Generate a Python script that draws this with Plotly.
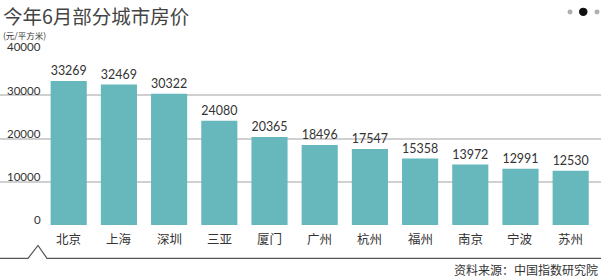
import plotly.graph_objects as go

cities = ["北京", "上海", "深圳", "三亚", "厦门", "广州", "杭州", "福州", "南京", "宁波", "苏州"]
prices = [33269, 32469, 30322, 24080, 20365, 18496, 17547, 15358, 13972, 12991, 12530]
y_ticks = [0, 10000, 20000, 30000, 40000]
title = "今年6月部分城市房价"
unit = "(元/平方米)"
source = "资料来源：中国指数研究院"

W, H = 601, 279
TOP, BOT = 52, 225.5


def py(p):
    return (BOT - p) / (BOT - TOP)


def px(p):
    return p / W


fig = go.Figure()
fig.add_trace(go.Bar(
    x=list(range(len(cities))), y=prices, width=0.72,
    marker=dict(color="#66b8bc", line=dict(width=0)),
    text=[str(v) for v in prices], textposition="outside",
    textfont=dict(family="Lato, Open Sans, sans-serif", size=14, color="#333333"),
    cliponaxis=False,
))

annotations = []
for t in y_ticks:
    annotations.append(dict(x=px(42), y=t, xref="paper", yref="y", text=str(t),
                            showarrow=False, xanchor="right", yanchor="bottom", yshift=-2.3,
                            borderpad=0,
                            font=dict(family="Lato, Open Sans, sans-serif", size=11.5, color="#333333")))
for i, c in enumerate(cities):
    annotations.append(dict(x=i, y=py(239), xref="x", yref="paper", text=c, showarrow=False,
                            xanchor="center", yanchor="middle",
                            font=dict(family="Noto Sans CJK SC", size=12.5, color="#333333")))
annotations.append(dict(x=px(2), y=py(0), xref="paper", yref="paper", text=title, showarrow=False,
                        xanchor="left", yanchor="top", borderpad=0,
                        font=dict(family="Noto Sans CJK SC", size=19.5, color="#444444")))
annotations.append(dict(x=px(2), y=py(28.4), xref="paper", yref="paper", text=unit, showarrow=False,
                        xanchor="left", yanchor="top", borderpad=0,
                        font=dict(family="Noto Sans CJK SC", size=8.5, color="#333333")))
annotations.append(dict(x=px(600), y=py(270), xref="paper", yref="paper", text=source, showarrow=False,
                        xanchor="right", yanchor="middle",
                        font=dict(family="Noto Sans CJK SC", size=12, color="#333333")))

shapes = [
    dict(type="path", xref="paper", yref="paper",
         path=f"M 0 {py(259)} L {px(28)} {py(259)} L {px(38)} {py(246)} L {px(47)} {py(259)} L 1 {py(259)}",
         line=dict(color="#555555", width=1.2)),
    dict(type="circle", xref="paper", yref="paper",
         x0=px(567.5), x1=px(572.5), y0=py(14.5), y1=py(9.5), fillcolor="#b0b0b0", line=dict(width=0)),
    dict(type="circle", xref="paper", yref="paper",
         x0=px(579), x1=px(587.5), y0=py(16), y1=py(7.5), fillcolor="#111111", line=dict(width=0)),
    dict(type="circle", xref="paper", yref="paper",
         x0=px(594.5), x1=px(599.5), y0=py(14.5), y1=py(9.5), fillcolor="#b0b0b0", line=dict(width=0)),
]

fig.update_layout(
    width=W, height=H, margin=dict(l=0, r=0, t=TOP, b=H - BOT),
    paper_bgcolor="white", plot_bgcolor="white", showlegend=False,
    xaxis=dict(range=[-1.369, 10.604], showticklabels=False, showgrid=False, zeroline=False,
               fixedrange=True),
    yaxis=dict(range=[0, 40000], tickvals=y_ticks, showticklabels=False, showgrid=True,
               gridcolor="#d0d0d0", gridwidth=1.5, zeroline=False, fixedrange=True),
    annotations=annotations, shapes=shapes,
)

fig.write_html("out.html")
